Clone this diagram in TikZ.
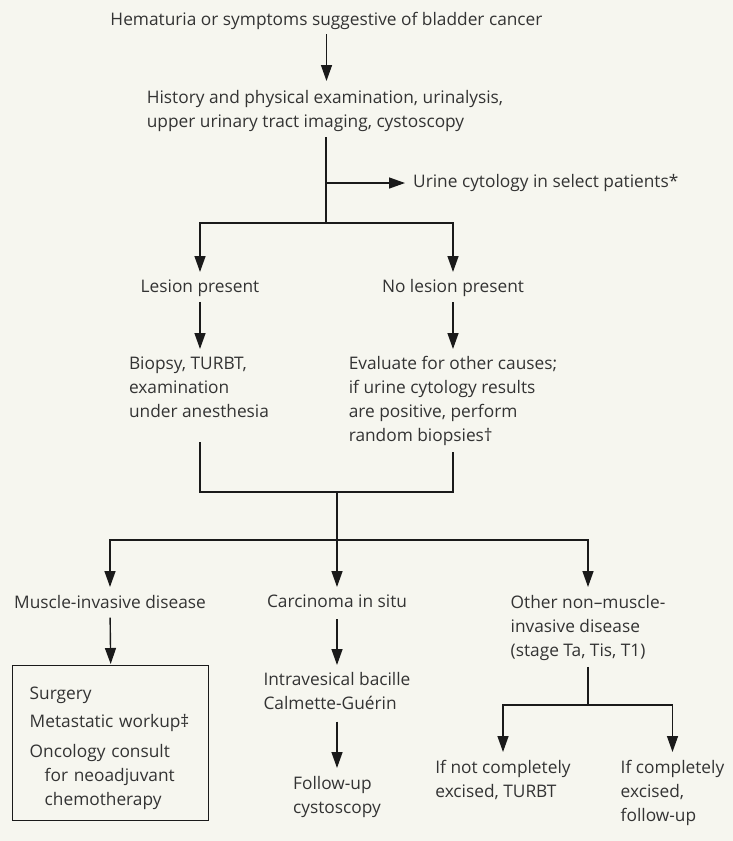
\documentclass[tikz,border=0pt]{standalone}
\usepackage{fontspec}
\setmainfont{Open Sans}
\usetikzlibrary{arrows.meta}
\definecolor{bgcream}{HTML}{F6F6EF}
\definecolor{inkgray}{HTML}{333333}
\definecolor{linegray}{HTML}{1A1A1A}
\newcommand{\flowfont}{\fontsize{17.3}{24}\selectfont}
\begin{document}
\begin{tikzpicture}[x=1pt, y=-1pt,
    txt/.style={font=\flowfont, text=inkgray, align=left, inner sep=0pt, anchor=north},
    line/.style={draw=linegray, line width=1.4pt},
    arr/.style={line, -{Triangle[length=16pt, width=11pt]}},
    boxed/.style={draw=linegray, line width=1.4pt, font=\flowfont, text=inkgray, align=left,
        anchor=north west, text width=162pt, inner xsep=17pt, inner ysep=0pt, minimum height=155pt}]
    \fill[bgcream] (0,0) rectangle (733,841);
    \useasboundingbox (0,0) rectangle (733,841);

    % Work-up
    \node[txt] (hem) at (326.5,11.6) {Hematuria or symptoms suggestive of bladder cancer};
    \node[txt] (hist) at (325,90.3) {History and physical examination, urinalysis,\\upper urinary tract imaging, cystoscopy};
    \node[txt, anchor=base west] (cyto) at (413,187.5) {Urine cytology in select patients*};
    \coordinate (split) at (326,223);

    % Cystoscopy findings
    \node[txt] (les) at (200,279.3) {Lesion present};
    \node[txt] (noles) at (453,279.3) {No lesion present};
    \node[txt] (biop) at (199,356.3) {Biopsy, TURBT,\\examination\\under anesthesia};
    \node[txt] (eval) at (453,356.3) {Evaluate for other causes;\\if urine cytology results\\are positive, perform\\random biopsies†};
    \coordinate (merge) at (337,492);
    \coordinate (split2) at (337,540);

    % Pathology
    \node[txt] (mus) at (110,594.8) {Muscle-invasive disease};
    \node[txt] (cis) at (337,594.8) {Carcinoma in situ};
    \node[txt] (nmi) at (588,594.8) {Other non–muscle-\\invasive disease\\(stage Ta, Tis, T1)};
    \node[boxed] (treat) at (12,665) {\rule{0pt}{22pt}Surgery\\[4pt]Metastatic workup‡\\[6pt]Oncology consult\\\hspace*{15pt}for neoadjuvant\\\hspace*{15pt}chemotherapy};
    \node[txt] (bcg) at (337,672.3) {Intravesical bacille\\Calmette-Guérin};
    \node[txt] (fup) at (337,775.8) {Follow-up\\cystoscopy};
    \coordinate (split3) at (588,705);
    \node[txt] (notex) at (503,760.3) {If not completely\\excised, TURBT};
    \node[txt] (compl) at (672.5,760.3) {If completely\\excised,\\follow-up};

    % Connectors
    \draw[arr, shorten <=5pt, shorten >=9.3pt] (hem.south) -- (hem.south |- hist.north);
    \draw[line, shorten <=5.3pt] (hist.south -| split) -- (split);
    \draw[arr, shorten >=8pt] (split |- cyto.west) -- (cyto.west);
    \draw[arr, shorten >=7.3pt] (split) -| (les.north);
    \draw[arr, shorten >=7.3pt] (split) -| (noles.north);
    \draw[arr, shorten <=5.3pt, shorten >=7.3pt] (les.south) -- (les.south |- biop.north);
    \draw[arr, shorten <=5.3pt, shorten >=7.3pt] (noles.south) -- (noles.south |- eval.north);
    \draw[line, shorten <=24.5pt] (les.south |- biop.south) |- (merge);
    \draw[line, shorten <=6.3pt] (eval.south) |- (merge);
    \draw[line] (merge) -- (split2);
    \draw[arr, shorten >=7.8pt] (split2) -| (mus.north);
    \draw[arr, shorten >=7.8pt] (split2) -- (cis.north);
    \draw[arr, shorten >=7.8pt] (split2) -| (nmi.north);
    \draw[arr, shorten <=9pt, shorten >=1pt] (mus.south) -- (treat.north);
    \draw[arr, shorten <=11pt, shorten >=7.3pt] (cis.south) -- (bcg.north);
    \draw[arr, shorten <=11.5pt, shorten >=7.8pt] (bcg.south) -- (fup.north);
    \draw[line, shorten <=6.3pt] (nmi.south) -- (split3);
    \draw[arr, shorten >=8.3pt] (split3) -| (notex.north);
    \draw[arr, shorten >=8.3pt] (split3) -| (compl.north);
\end{tikzpicture}
\end{document}
